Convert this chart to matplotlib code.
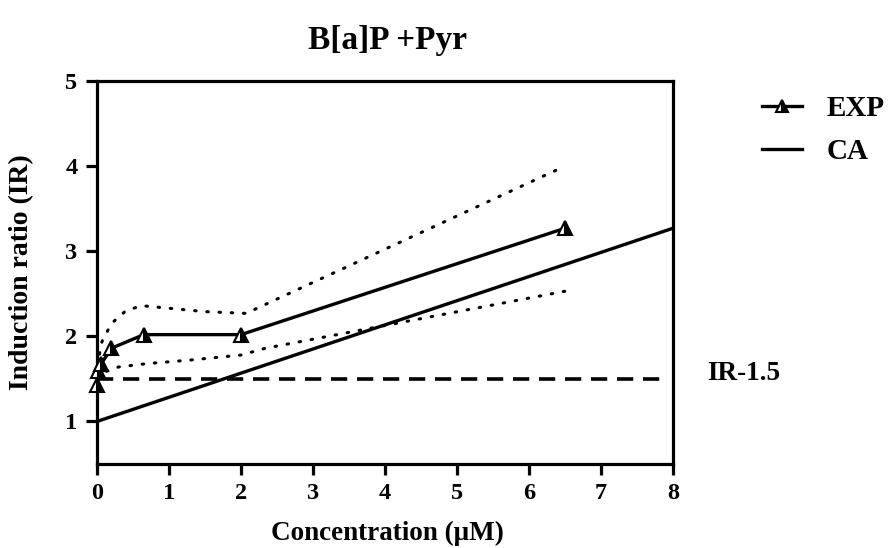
import matplotlib
matplotlib.use("Agg")
import matplotlib.pyplot as plt
from matplotlib.lines import Line2D

plt.rcParams['font.family'] = ['Liberation Serif', 'DejaVu Serif']
plt.rcParams['font.weight'] = 'bold'

# Data
exp_x = [0.0, 0.02, 0.06, 0.2, 0.65, 2.0, 6.5]
exp_y = [1.43, 1.59, 1.68, 1.86, 2.02, 2.02, 3.27]
ca_x = [0, 8]
ca_y = [1.0, 3.27]
upper_x = [0.0, 0.07, 0.2, 0.4, 0.62, 1.0, 1.5, 2.07, 6.5]
upper_y = [1.65, 1.94, 2.15, 2.3, 2.36, 2.33, 2.29, 2.27, 4.0]
lower_x = [0.0, 0.1, 0.3, 0.7, 1.28, 2.0, 2.34, 6.5]
lower_y = [1.5, 1.58, 1.64, 1.68, 1.72, 1.78, 1.86, 2.53]
ir_x = [0, 7.86]
ir_y = [1.5, 1.5]
xticks = [0, 1, 2, 3, 4, 5, 6, 7, 8]
yticks = [1, 2, 3, 4, 5]

W, H = 894, 548
fig = plt.figure(figsize=(W/100, H/100), dpi=100)
ax = fig.add_axes([97/W, 1-464/H, (673-97)/W, (464-81)/H])

ax.plot(ir_x, ir_y, color='black', lw=2.6, ls=(0, (4.5, 2.7)))
ax.plot(upper_x, upper_y, color='black', lw=2.2, ls=(0, (0.5, 3.5)), dash_capstyle='round')
ax.plot(lower_x, lower_y, color='black', lw=2.2, ls=(0, (0.5, 3.5)), dash_capstyle='round')
ax.plot(ca_x, ca_y, color='black', lw=2.4)
ax.plot(exp_x, exp_y, color='black', lw=2.4, marker='^', markersize=10.5,
        fillstyle='right', markerfacecolor='black', markerfacecoloralt='white',
        markeredgecolor='black', markeredgewidth=1.5, clip_on=False, zorder=5)

ax.set_xlim(0, 8)
ax.set_ylim(0.5, 5)
ax.set_xticks(xticks)
ax.set_yticks(yticks)
for s in ax.spines.values():
    s.set_linewidth(2.3)
ax.tick_params(direction='out', length=8, width=2.3, labelsize=17.5, pad=6)
for lab in ax.get_xticklabels() + ax.get_yticklabels():
    lab.set_fontweight('bold')

ax.set_xlabel('Concentration (\u03bcM)', fontsize=19.5, fontweight='bold')
ax.set_ylabel('Induction ratio (IR)', fontsize=20, fontweight='bold')
ax.xaxis.set_label_coords((387-97)/576, (464-533)/383)
ax.yaxis.set_label_coords((22-97)/576, 0.5)
ax.xaxis.label.set_va('center')
ax.yaxis.label.set_va('center')

fig.text(388/W, 1-40/H, 'B[a]P +Pyr', ha='center', va='center', fontsize=24, fontweight='bold')
fig.text(707/W, 1-380/H, 'IR-1.5', ha='left', va='baseline', fontsize=19.5, fontweight='bold')

handles = [
    Line2D([], [], color='black', lw=2.4, marker='^', markersize=9, fillstyle='right',
           markerfacecolor='black', markerfacecoloralt='white', markeredgewidth=1.5),
    Line2D([], [], color='black', lw=2.4),
]
fig.legend(handles, ['EXP', 'CA'], loc='upper left', bbox_to_anchor=(762/W, 1-95/H),
           frameon=False, prop={'size': 21, 'weight': 'bold'}, handlelength=1.38,
           handletextpad=0.85, labelspacing=0.55, borderpad=0, borderaxespad=0)

fig.savefig('out.png', dpi=100)
